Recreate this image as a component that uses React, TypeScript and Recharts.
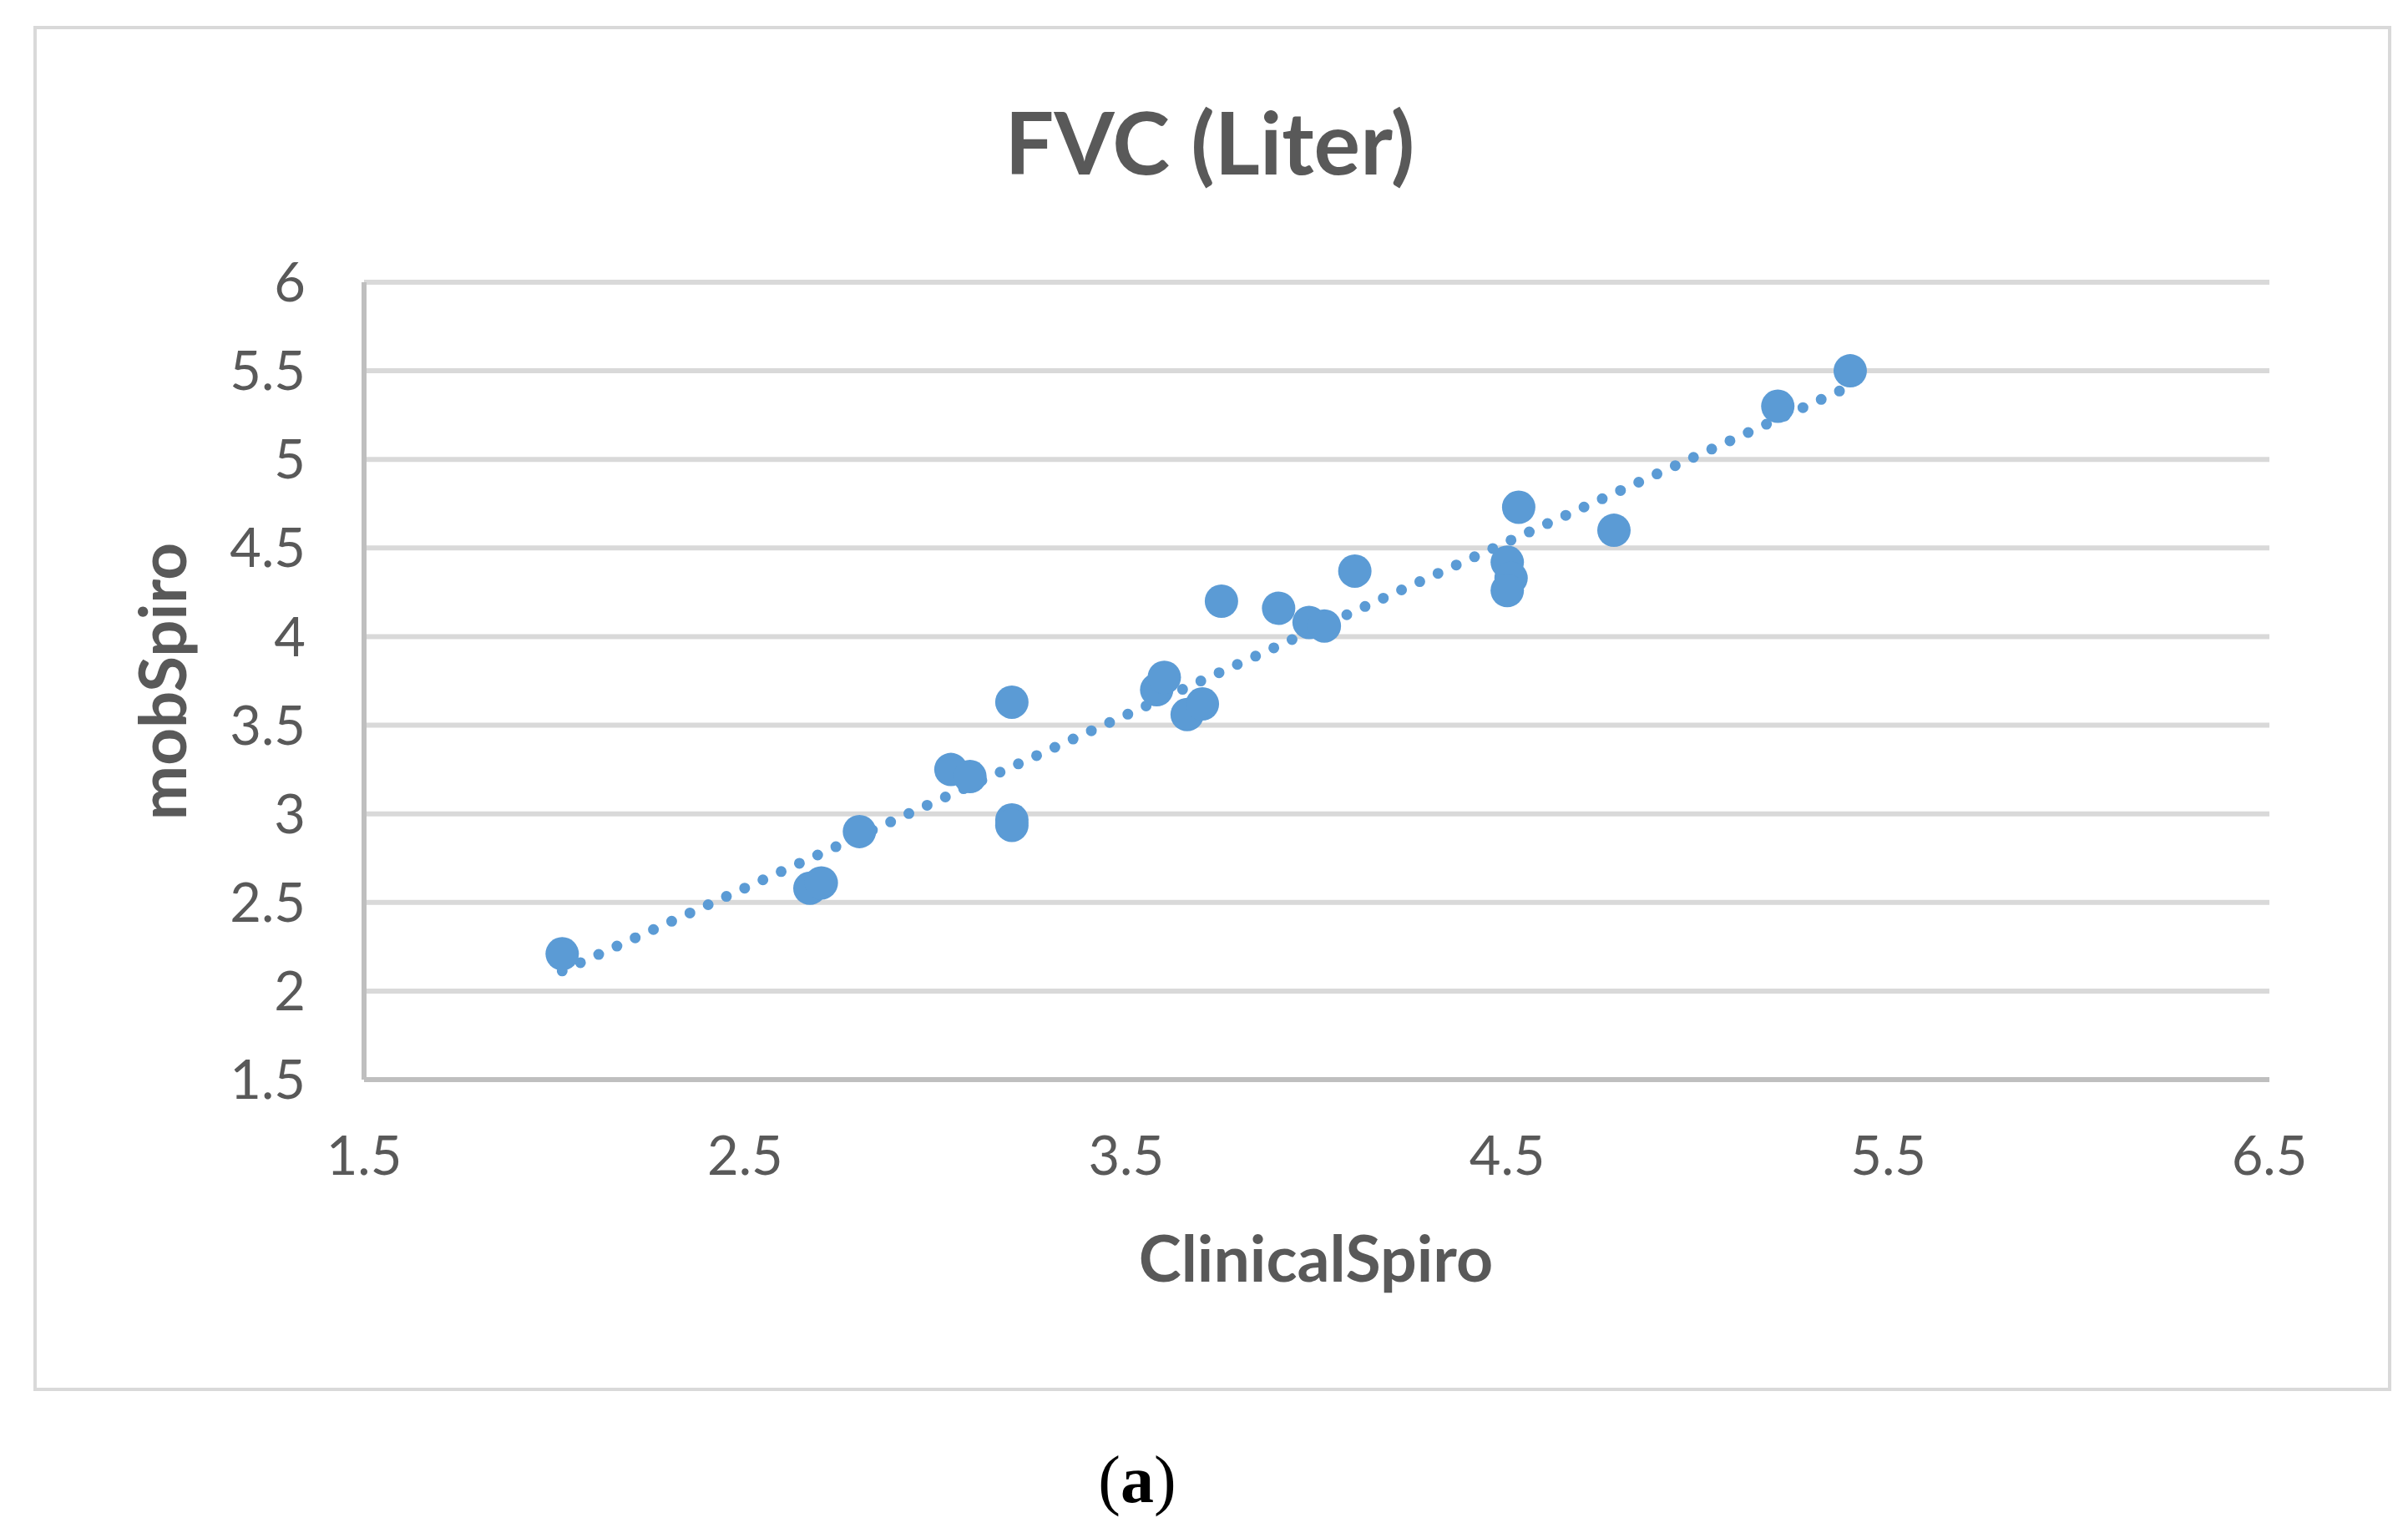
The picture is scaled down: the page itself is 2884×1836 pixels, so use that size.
import { ScatterChart, Scatter, XAxis, YAxis, CartesianGrid, ReferenceLine } from "recharts";

// ClinicalSpiro (x) vs mobSpiro (y), FVC in litres
const clinicalSpiro = [2.02, 2.67, 2.7, 2.8, 3.04, 3.09, 3.2, 3.2, 3.2, 3.58, 3.6, 3.66, 3.7, 3.75, 3.9, 3.98, 4.02, 4.1, 4.5, 4.51, 4.5, 4.53, 4.78, 5.21, 5.4];
const mobSpiro = [2.21, 2.58, 2.61, 2.9, 3.25, 3.21, 3.63, 2.965, 2.935, 3.7, 3.77, 3.56, 3.62, 4.2, 4.16, 4.08, 4.06, 4.37, 4.42, 4.33, 4.26, 4.73, 4.6, 5.3, 5.5];

const xTicks = [1.5, 2.5, 3.5, 4.5, 5.5, 6.5];
const yTicks = [1.5, 2, 2.5, 3, 3.5, 4, 4.5, 5, 5.5, 6];

const points = clinicalSpiro.map((x, i) => ({ x, y: mobSpiro[i] }));

// least-squares trendline across the data's x range (like Excel's linear trendline)
function trendline() {
  const n = clinicalSpiro.length;
  const mx = clinicalSpiro.reduce((a, b) => a + b, 0) / n;
  const my = mobSpiro.reduce((a, b) => a + b, 0) / n;
  let sxy = 0;
  let sxx = 0;
  clinicalSpiro.forEach((x, i) => {
    sxy += (x - mx) * (mobSpiro[i] - my);
    sxx += (x - mx) * (x - mx);
  });
  const slope = sxy / sxx;
  const icpt = my - slope * mx;
  const lo = Math.min(...clinicalSpiro);
  const hi = Math.max(...clinicalSpiro);
  return [
    { x: lo, y: icpt + slope * lo },
    { x: hi, y: icpt + slope * hi },
  ];
}

const BLUE = "#5b9bd5";
const TEXT = "#595959";
const FONT = "Lato, 'Open Sans', sans-serif";

const Dot = (p: any) => <circle cx={p.cx} cy={p.cy} r={20} fill={BLUE} />;

export default function App() {
  const trend = trendline();
  return (
    <div style={{ position: "absolute", left: 0, top: 0, width: 2884, height: 1836, background: "#fff", fontFamily: FONT }}>
      <div style={{ position: "absolute", left: 40, top: 31, width: 2816, height: 1627, border: "4px solid #d9d9d9" }} />
      <div style={{ position: "absolute", left: 0, width: 2898, top: 104, textAlign: "center", fontSize: 104, fontWeight: 700, color: TEXT, lineHeight: "130px" }}>
        FVC (Liter)
      </div>
      <ScatterChart width={2884} height={1836} margin={{ top: 338, right: 166, bottom: 443, left: 0 }} style={{ position: "absolute", left: 0, top: 0 }}>
        <CartesianGrid horizontal vertical={false} stroke="#d9d9d9" strokeWidth={6} />
        <XAxis
          type="number"
          dataKey="x"
          domain={[1.5, 6.5]}
          ticks={xTicks}
          interval={0}
          height={100}
          axisLine={{ stroke: "#bfbfbf", strokeWidth: 6 }}
          tickLine={false}
          tickSize={0}
          tickMargin={68}
          tick={{ fill: TEXT, fontSize: 65, fontFamily: FONT }}
        />
        <YAxis
          type="number"
          dataKey="y"
          domain={[1.5, 6]}
          ticks={yTicks}
          interval={0}
          width={436}
          axisLine={{ stroke: "#bfbfbf", strokeWidth: 6 }}
          tickLine={false}
          tickSize={0}
          tickMargin={70}
          tick={{ fill: TEXT, fontSize: 65, fontFamily: FONT }}
        />
        <Scatter data={points} fill={BLUE} shape={Dot} isAnimationActive={false} />
        <ReferenceLine
          segment={trend}
          ifOverflow="visible"
          stroke={BLUE}
          strokeWidth={13}
          strokeDasharray="0 24"
          strokeLinecap="round"
        />
      </ScatterChart>
      <div style={{ position: "absolute", left: 0, width: 3152, top: 1460, textAlign: "center", fontSize: 77, fontWeight: 700, color: TEXT, lineHeight: "90px" }}>
        ClinicalSpiro
      </div>
      <div
        style={{
          position: "absolute",
          left: 193 - 300,
          top: 816 - 45,
          width: 600,
          textAlign: "center",
          fontSize: 78,
          fontWeight: 700,
          color: TEXT,
          lineHeight: "90px",
          transform: "rotate(-90deg)",
        }}
      >
        mobSpiro
      </div>
      <div style={{ position: "absolute", left: 0, width: 2724, top: 1724, textAlign: "center", fontSize: 80, fontFamily: "'Liberation Serif', serif", color: "#000", lineHeight: "96px" }}>
        (<b>a</b>)
      </div>
    </div>
  );
}
